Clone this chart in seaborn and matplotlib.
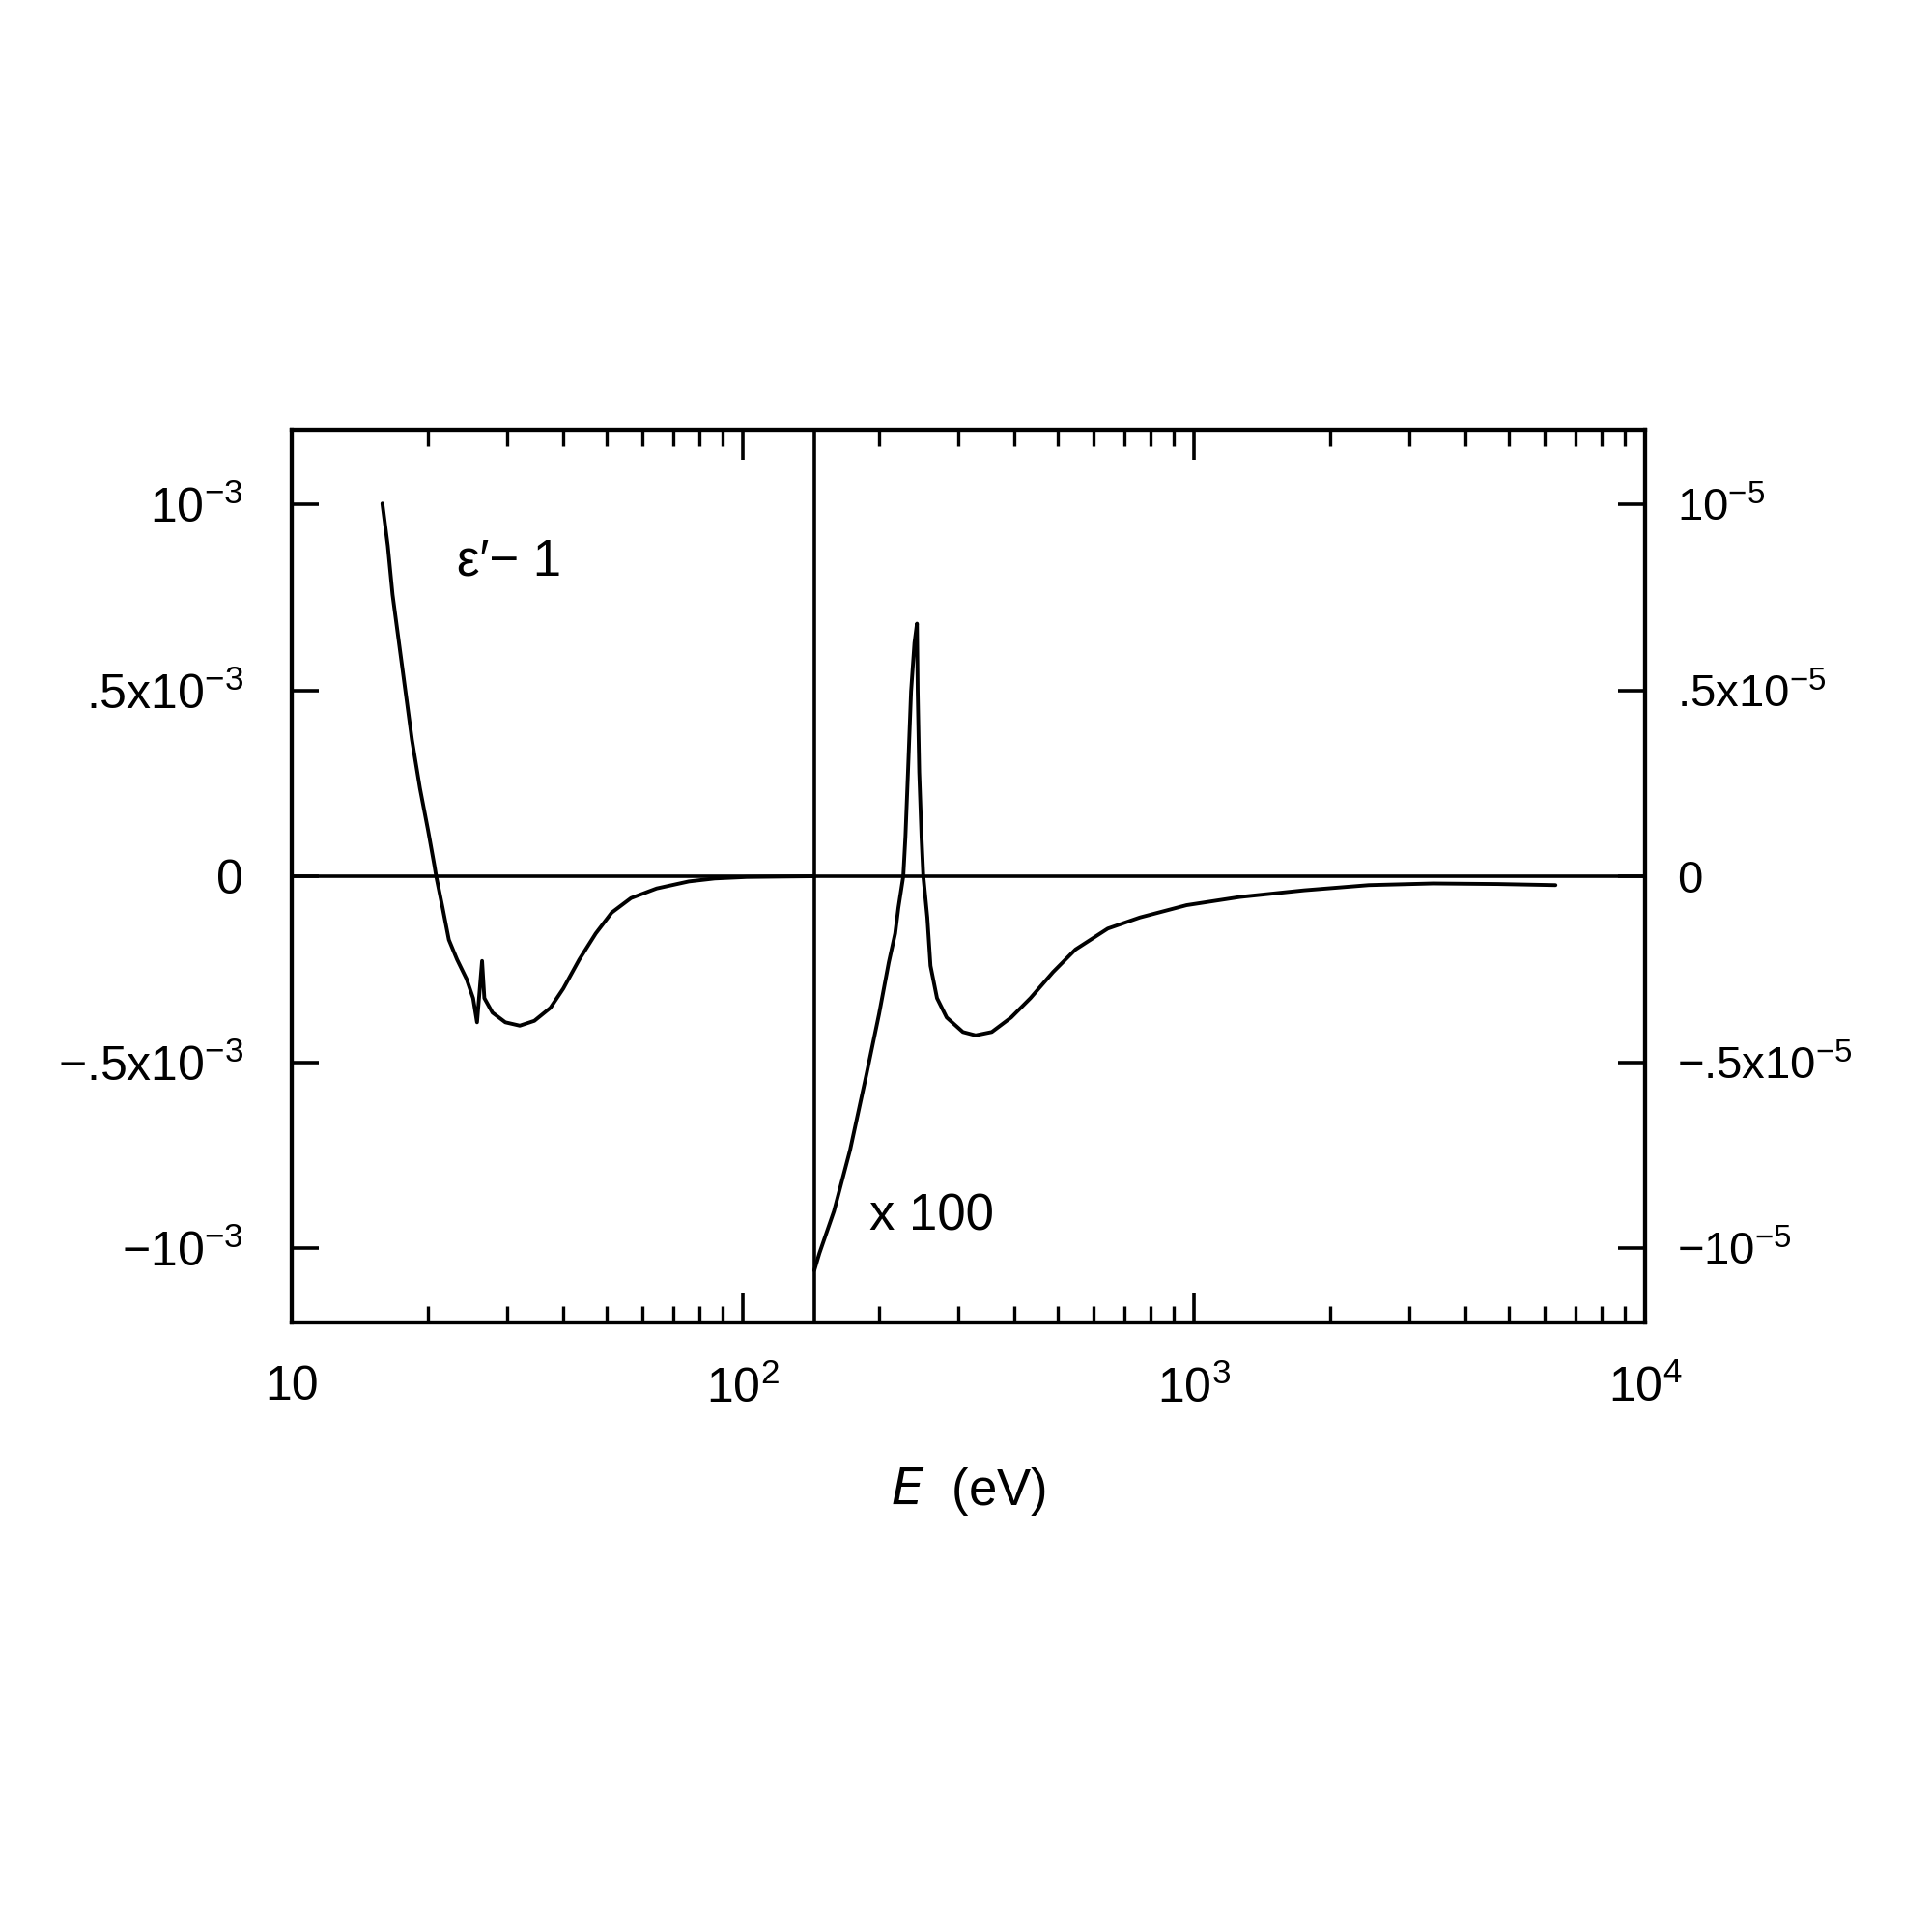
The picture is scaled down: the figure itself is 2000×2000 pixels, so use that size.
import numpy as np
import matplotlib
matplotlib.use("Agg")
import matplotlib.pyplot as plt
import matplotlib.ticker as mticker
from matplotlib import font_manager
import seaborn as sns

# left segment: eps'-1 in units of 1e-3
E_low = [15.88, 16.33, 16.73, 17.29, 17.87, 18.47, 19.24, 20.05, 20.72, 20.9,
         21.6, 22.3, 23.25, 24.4, 25.24, 25.75, 26.42, 26.73, 27.86, 29.75,
         32.03, 34.5, 37.45, 40.0, 43.4, 47.2, 51.2, 56.5, 64.4, 75.9, 86.6,
         102.0, 120.0, 144.0]
eps_low = [1.002, 0.888, 0.757, 0.627, 0.497, 0.367, 0.2365, 0.124, 0.028, 0.0,
           -0.085, -0.171, -0.224, -0.276, -0.328, -0.393, -0.228, -0.328, -0.367,
           -0.393, -0.402, -0.389, -0.354, -0.302, -0.224, -0.154, -0.098, -0.059,
           -0.033, -0.014, -0.006, -0.002, -0.001, 0.0]

# right segment: eps'-1 x100, in units of 1e-5
E_high = [144.0, 147.8, 159.2, 172.9, 187.7, 200.4, 210.6, 217.6, 221.2, 226.8,
          229.3, 232.3, 236.0, 240.1, 243.2, 244.1, 246.0, 248.9, 251.2, 256.4,
          260.6, 269.4, 283.0, 307.4, 328.0, 356.3, 393.3, 434.0, 487.0, 546.3,
          644.0, 759.0, 963.0, 1264.0, 1755.0, 2440.0, 3388.0, 4710.0, 6330.0]
eps_high = [-1.06, -1.014, -0.901, -0.736, -0.536, -0.371, -0.232, -0.154, -0.085,
            0.0, 0.106, 0.28, 0.497, 0.627, 0.679, 0.497, 0.28, 0.106, 0.0, -0.111,
            -0.241, -0.328, -0.38, -0.419, -0.428, -0.419, -0.38, -0.328, -0.258,
            -0.197, -0.141, -0.111, -0.078, -0.056, -0.038, -0.024, -0.0195, -0.021,
            -0.024]

E_break = 144
ytick_vals = [1, 0.5, 0, -0.5, -1]
left_labels = ["10$^{-3}$", ".5x10$^{-3}$", "0", "\u2212.5x10$^{-3}$", "\u221210$^{-3}$"]
right_labels = ["10$^{-5}$", ".5x10$^{-5}$", "0", "\u2212.5x10$^{-5}$", "\u221210$^{-5}$"]
xtick_vals = [10, 100, 1000, 10000]
xtick_labels = ["10", "10$^2$", "10$^3$", "10$^4$"]

sns.set_style("ticks")
installed = {f.name for f in font_manager.fontManager.ttflist}
narrow = "Liberation Sans Narrow" if "Liberation Sans Narrow" in installed else "Liberation Sans"
plt.rcParams["font.family"] = [narrow, "DejaVu Sans"]
plt.rcParams["mathtext.default"] = "regular"
for key in ["text.color", "axes.labelcolor", "xtick.color", "ytick.color"]:
    plt.rcParams[key] = "black"

fig = plt.figure(figsize=(10, 10), dpi=200)
ax = fig.add_axes([0.151, 0.3155, 0.7005, 0.462])
ax.set_xscale("log")

sns.lineplot(x=E_low, y=eps_low, ax=ax, color="black", linewidth=1.4,
             sort=False, estimator=None)
ax.axhline(0, color="black", linewidth=1.3)
ax.axvline(E_break, color="black", linewidth=1.3)

ax.set_xlim(10, 10000)
ax.set_ylim(-1.2, 1.2)
ax.set_xticks(xtick_vals)
ax.set_xticklabels(xtick_labels, fontsize=18)
ax.xaxis.set_minor_locator(mticker.LogLocator(base=10, subs=np.arange(2, 10)))
ax.xaxis.set_minor_formatter(mticker.NullFormatter())
ax.set_yticks(ytick_vals)
ax.set_yticklabels(left_labels, fontsize=18)

ax.tick_params(axis="x", which="major", direction="in", top=True, bottom=True,
               length=11, width=1.3, pad=16)
ax.tick_params(axis="x", which="minor", direction="in", top=True, bottom=True,
               length=6, width=1.2)
ax.tick_params(axis="y", direction="in", left=True, right=False,
               length=10, width=1.3, pad=18)

ax2 = ax.twinx()
sns.lineplot(x=E_high, y=eps_high, ax=ax2, color="black", linewidth=1.4,
             sort=False, estimator=None)
ax2.set_ylim(-1.2, 1.2)
ax2.set_yticks(ytick_vals)
ax2.set_yticklabels(right_labels, fontsize=17, family=["Liberation Sans", "DejaVu Sans"])
ax2.set_ylabel("")
ax2.tick_params(axis="y", direction="in", length=10, width=1.3, pad=12)

for a in (ax, ax2):
    for s in a.spines.values():
        s.set_visible(True)
        s.set_linewidth(1.5)
        s.set_color("black")

ax.text(30.3, 0.845, "\u03b5\u2032\u2212 1", fontsize=19, ha="center", va="center")
ax.text(262, -0.915, "x 100", fontsize=19, ha="center", va="center")
ax.set_xlabel("$\\mathit{E}$  (eV)", fontsize=19, labelpad=20)
ax.set_ylabel("")

fig.savefig("out.png", dpi=200, facecolor="white")
